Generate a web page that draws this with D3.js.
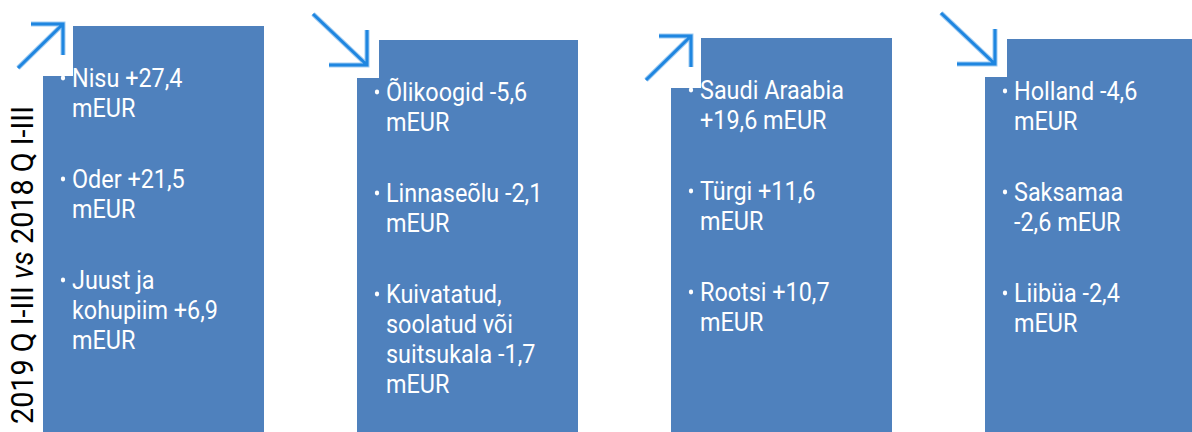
<!DOCTYPE html>
<html>
<head>
<meta charset="utf-8">
<script src="https://cdn.jsdelivr.net/npm/d3@7"></script>
<style>
  body { margin: 0; background: #fff; }
  svg { display: block; }
</style>
</head>
<body>
<svg id="drawing_region"></svg>
<script>
// panel data: direction of change, names and change in million EUR
const directions = ["up", "down", "up", "down"];
const names1 = ["Nisu", "Oder", "Juust ja kohupiim"];
const values1 = [27.4, 21.5, 6.9];
const names2 = ["Õlikoogid", "Linnaseõlu", "Kuivatatud, soolatud või suitsukala"];
const values2 = [-5.6, -2.1, -1.7];
const names3 = ["Saudi Araabia", "Türgi", "Rootsi"];
const values3 = [19.6, 11.6, 10.7];
const names4 = ["Holland", "Saksamaa", "Liibüa"];
const values4 = [-4.6, -2.6, -2.4];
const unit = "mEUR";
const sideLabel = ["2019 Q I-III ", "vs", " 2018 Q I-III"];

const panels = [
    { names: names1, values: values1 },
    { names: names2, values: values2 },
    { names: names3, values: values3 },
    { names: names4, values: values4 }
].map((p, i) => ({ ...p, dir: directions[i], i: i }));

const config = {
    width: 1192,
    height: 432,
    boxTop: [26, 40, 38, 39],
    wrapWidth: [165, 165, 165, 140],
    fontSize: 26,
    squeeze: 0.9
};

const fmt = v => (v > 0 ? "+" : "") + d3.format(".1f")(v).replace(".", ",").replace("−", "-") + " " + unit;

const svg = d3.select("#drawing_region")
    .attr("width", config.width)
    .attr("height", config.height);

const x = d3.scaleBand()
    .domain(panels.map(d => d.i))
    .range([43, 43 + 314 * (4 - 93 / 314)])
    .paddingInner(93 / 314)
    .paddingOuter(0);

// side label
svg.append("text")
    .attr("transform", "translate(33, 424) rotate(-90)")
    .attr("font-family", "Roboto, sans-serif")
    .attr("font-size", 32)
    .attr("fill", "#000")
    .attr("textLength", 318)
    .attr("lengthAdjust", "spacingAndGlyphs")
    .selectAll("tspan")
    .data(sideLabel)
    .join("tspan")
    .attr("font-style", (d, i) => i === 1 ? "italic" : "normal")
    .text(d => d);

const g = svg.selectAll("g.panel")
    .data(panels)
    .join("g")
    .attr("class", "panel")
    .attr("transform", d => `translate(${x(d.i)}, ${config.boxTop[d.i]})`);

g.append("rect")
    .attr("width", x.bandwidth())
    .attr("height", d => config.height - config.boxTop[d.i])
    .attr("fill", "#4f81bd");

// white square behind arrow
g.append("rect")
    .attr("x", d => d.dir === "up" ? -32 : -52)
    .attr("y", d => d.dir === "up" ? -12 : -32)
    .attr("width", d => d.dir === "up" ? 62 : 74)
    .attr("height", d => d.dir === "up" ? 62 : 70)
    .attr("fill", "#fff");

const arrowPath = d => {
    if (d.dir === "up") {
        const tip = [20, -2];
        return `M-25,42L${tip[0]},${tip[1]}M${tip[0] - 32},${tip[1]}L${tip[0]},${tip[1]}L${tip[0]},${tip[1] + 31}`;
    }
    const tip = [10, 25];
    return `M-44,-26L${tip[0]},${tip[1]}M${tip[0]},${tip[1] - 35}L${tip[0]},${tip[1]}L${tip[0] - 38},${tip[1]}`;
};

g.append("path")
    .attr("d", arrowPath)
    .attr("fill", "none")
    .attr("stroke", "#9fcbf2")
    .attr("stroke-width", 5)
    .attr("stroke-linejoin", "miter");
g.append("path")
    .attr("d", arrowPath)
    .attr("fill", "none")
    .attr("stroke", "#1f86e0")
    .attr("stroke-width", 3)
    .attr("stroke-linejoin", "miter");

// bullet text
const text = g.append("g")
    .attr("transform", `translate(29, 61) scale(${config.squeeze}, 1)`);

text.each(function(d) {
    const t = d3.select(this);
    const maxW = config.wrapWidth[d.i];
    let y = 0;
    d.names.forEach((name, k) => {
        const words = (name + " " + fmt(d.values[k])).split(" ");
        const firstY = y;
        const el = t.append("text")
            .attr("font-family", "Roboto, sans-serif")
            .attr("font-size", config.fontSize)
            .attr("fill", "#fff");
        let line = [];
        let tspan = el.append("tspan").attr("x", 0).attr("y", y);
        words.forEach(w => {
            line.push(w);
            tspan.text(line.join(" "));
            if (tspan.node().getComputedTextLength() * config.squeeze > maxW && line.length > 1) {
                line.pop();
                tspan.text(line.join(" "));
                line = [w];
                y += 30;
                tspan = el.append("tspan").attr("x", 0).attr("y", y).text(w);
            }
        });
        t.append("circle")
            .attr("cx", -9 / config.squeeze)
            .attr("cy", firstY - 9)
            .attr("r", 2.4)
            .attr("fill", "#fff");
        y += 71;
    });
});
</script>
</body>
</html>
